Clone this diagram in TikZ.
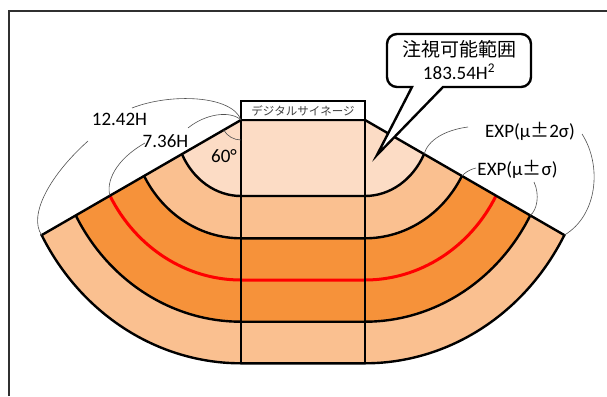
\documentclass[tikz,border=0pt]{standalone}
\usepackage{fontspec}
\setmainfont{Carlito}
\newfontfamily\jpfont{Noto Sans CJK JP}
\usetikzlibrary{calc}
\definecolor{bandA}{HTML}{FCDCC5}
\definecolor{bandB}{HTML}{FAC090}
\definecolor{bandC}{HTML}{F6923A}
\definecolor{leadc}{HTML}{505050}
\definecolor{framec}{HTML}{303030}
% #1 t, #2 rx, #3 ry
\newcommand\myband[4]{%
  \fill[#4] (CL) -- ++(180+#1:#2 and #3)
    arc[start angle=180+#1, end angle=270, x radius=#2, y radius=#3]
    -- ++(124,0)
    arc[start angle=270, end angle=360-#1, x radius=#2, y radius=#3]
    -- (CR) -- cycle;}
\newcommand\myarc[4]{%
  \draw[#4] (CL) ++(180+#1:#2 and #3)
    arc[start angle=180+#1, end angle=270, x radius=#2, y radius=#3]
    -- ++(124,0)
    arc[start angle=270, end angle=360-#1, x radius=#2, y radius=#3];}
\newcommand\mypm{\makebox[1em]{\jpfont ±}}
\begin{document}
\begin{tikzpicture}[x=1pt,y=1pt,
  outl/.style={line width=2.4pt, black, line join=miter},
  redl/.style={line width=3pt, red},
  leader/.style={line width=0.6pt, leadc},
  lbl/.style={inner sep=0pt, anchor=base, font=\fontsize{19}{22}\selectfont},
]
\useasboundingbox (0,0) rectangle (607,-396);
\coordinate (CL) at (241,-120);
\coordinate (CR) at (365,-120);
% geometry points (arc ends)
\coordinate (L1) at ($(CL)+(206.67:66.1 and 76)$);
\coordinate (R1) at ($(CR)+(333.33:66.1 and 76)$);
\coordinate (L2) at ($(CL)+(208.24:110 and 118.3)$);
\coordinate (R2) at ($(CR)+(331.76:110 and 118.3)$);
\coordinate (L3) at ($(CL)+(208.24:148.8 and 160)$);
\coordinate (R3) at ($(CR)+(331.76:148.8 and 160)$);
\coordinate (L4) at ($(CL)+(208.24:187.6 and 201.7)$);
\coordinate (R4) at ($(CR)+(331.76:187.6 and 201.7)$);
\coordinate (L5) at ($(CL)+(208.24:226.3 and 243.3)$);
\coordinate (R5) at ($(CR)+(331.76:226.3 and 243.3)$);
% fills
\myband{28.24}{226.3}{243.3}{bandB}
\myband{28.24}{187.6}{201.7}{bandC}
\myband{28.24}{110}{118.3}{bandB}
\myband{26.67}{66.1}{76}{bandA}
% arcs
\myarc{26.67}{66.1}{76}{outl}
\myarc{28.24}{110}{118.3}{outl}
\myarc{28.24}{187.6}{201.7}{outl}
\myarc{28.24}{148.8}{160}{redl}
% outer boundary
\draw[outl] (CR) -- (CL) -- (L5)
  arc[start angle=208.24, end angle=270, x radius=226.3, y radius=243.3]
  -- ++(124,0)
  arc[start angle=270, end angle=331.76, x radius=226.3, y radius=243.3]
  -- cycle;
% verticals
\draw[outl] (241,-101) -- (241,-363.3);
\draw[outl] (365,-101) -- (365,-363.3);
% signage
\node[draw=black, line width=2pt, fill=white, minimum width=124pt, minimum height=19pt,
      inner sep=0pt, text=black!75, font=\jpfont\fontsize{11.5}{13}\selectfont]
      (sign) at (303,-110.5) {デジタルサイネージ};
% labels
\node[lbl] (d12) at (119.5,-125) {12.42H};
\node[lbl] (d7) at (165.5,-147) {7.36H};
\node[lbl] (ang) at (224,-162) {60°};
\node[lbl] (e2) at (530,-137) {EXP(μ\mypm2σ)};
\node[lbl] (e1) at (517.5,-175) {EXP(μ\mypm σ)};
% leader anchor points
\coordinate (d12a) at (132,-108);
\coordinate (d12b) at (88,-141);
\coordinate (d7a) at (188,-128);
\coordinate (d7b) at (145,-143);
\coordinate (e2a) at (468,-127);
\coordinate (e2b) at (582,-134);
\coordinate (e1a) at (476,-168);
\coordinate (e1b) at (534,-182);
% leaders
\draw[leader] (d12a) .. controls (170,-93) and (232,-95) .. (CL);
\draw[leader] (d12b) .. controls (50,-175) and (28,-215) .. (L5);
\draw[leader] (d7a) .. controls (205,-114) and (230,-110) .. (CL);
\draw[leader] (d7b) .. controls (115,-160) and (106,-182) .. (L3);
\draw[leader] (CL) ++(210:20) arc[start angle=210, end angle=270, radius=20];
\draw[leader] (e2a) .. controls (445,-130) and (428,-140) .. (R1);
\draw[leader] (e2b) .. controls (602,-165) and (598,-215) .. (R5);
\draw[leader] (e1a) .. controls (468,-170) and (465,-173) .. (R2);
\draw[leader] (e1b) .. controls (540,-195) and (537,-210) .. (R4);
% callout
\draw[line width=2.4pt, fill=white, line join=miter]
  (377,-155) -- (412,-87) -- (397,-87)
  arc[start angle=270, end angle=180, radius=10] -- (387,-44)
  arc[start angle=180, end angle=90, radius=10] -- (521,-34)
  arc[start angle=90, end angle=0, radius=10] -- (531,-77)
  arc[start angle=0, end angle=-90, radius=10] -- (443,-87) -- cycle;
\node[inner sep=0pt, font=\jpfont\fontsize{19}{22}\selectfont] (ct1) at (459,-49) {注視可能範囲};
\node[lbl] (ct2) at (459,-79) {183.54H\textsuperscript{2}};
% frame
\draw[framec, line width=1.3pt] (9,-396) -- (9,-11) -- (607,-11);
\end{tikzpicture}
\end{document}
